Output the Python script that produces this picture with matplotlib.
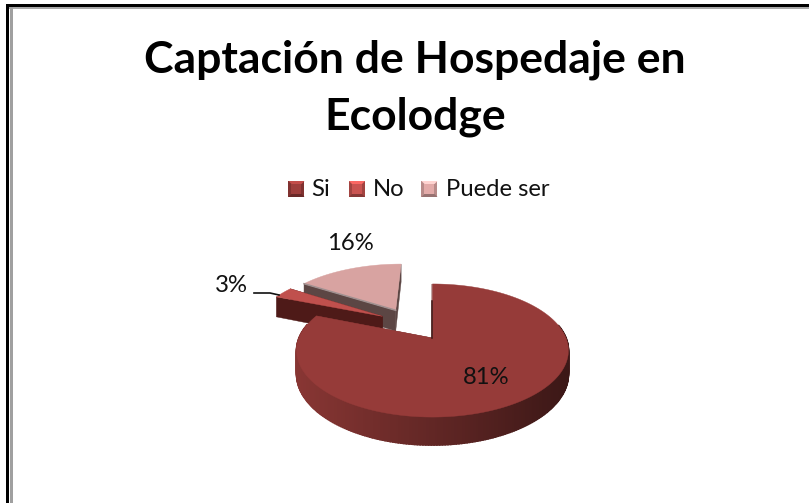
import numpy as np
import matplotlib
matplotlib.use("Agg")
import matplotlib.pyplot as plt
from matplotlib.patches import Rectangle, Polygon

title_lines = ["Captación de Hospedaje en", "Ecolodge"]
categories = ["Si", "No", "Puede ser"]
values = [81, 3, 16]
labels = ["81%", "3%", "16%"]

top_colors = ["#963B39", "#C0504D", "#D8A3A1"]
wall_colors = ["#6F2C2A", "#4E1A18", "#5C4644"]
cut_line_colors = ["#3A1412", None, "#A09090"]
cut_line_len = [0.65, 0.0, 1.0]
explode_x = [0.0, -0.40, -0.30]
explode_y = [0.0, 0.36, 0.47]

CX, CY = 432.5, 338.0
RX, A, B, DEPTH = 133.5, 64.2, 0.188, 22.7

fig = plt.figure(figsize=(8.09, 5.03), dpi=100)
ax = fig.add_axes([0, 0, 1, 1])
ax.set_xlim(0, 809)
ax.set_ylim(503, 0)
ax.axis("off")
plt.rcParams["font.family"] = ["Lato", "DejaVu Sans"]


def project(x, y, z=0.0):
    x = np.asarray(x, float)
    y = np.asarray(y, float)
    w = 1 + B * y
    return CX + RX * x / w, CY - A * y / w + DEPTH * z / w


def arc(a0, a1, n=300):
    t = np.radians(np.linspace(a0, a1, n))
    return np.sin(t), np.cos(t)


def shade(c, f):
    rgb = np.array(matplotlib.colors.to_rgb(c))
    return tuple(np.clip(rgb * f, 0, 1))


# Border of the picture
ax.add_patch(Rectangle((6, 4), 803, 3.4, color="#000000", lw=0, zorder=1))
ax.add_patch(Rectangle((9.5, 7.4), 800, 1.6, color="#A8A8A8", lw=0, zorder=1))
ax.add_patch(Rectangle((6, 4), 3.4, 499, color="#000000", lw=0, zorder=1))
ax.add_patch(Rectangle((10, 7.4), 2.6, 496, color="#A0A0A0", lw=0, zorder=1))

# Title
ax.text(415, 60, title_lines[0], ha="center", va="center", fontsize=32,
        fontweight="bold", color="#000000")
ax.text(415, 117, title_lines[1], ha="center", va="center", fontsize=32,
        fontweight="bold", color="#000000")

# Slice angles come from the values (clockwise from 12 o'clock)
edges = np.concatenate([[0], np.cumsum(values)]) * 360.0 / sum(values)


def draw_slice(i, zorder):
    a0, a1 = edges[i], edges[i + 1]
    ex, ey = explode_x[i], explode_y[i]
    sx, sy = arc(a0, a1)
    sx, sy = sx + ex, sy + ey

    # Radial walls
    for ang in (a0, a1):
        t = np.radians(ang)
        rx = np.array([ex, ex + np.sin(t)])
        ry = np.array([ey, ey + np.cos(t)])
        top = project(rx, ry)
        bot = project(rx, ry, 1.0)
        ax.fill(np.r_[top[0], bot[0][::-1]], np.r_[top[1], bot[1][::-1]],
                color=wall_colors[i], lw=0.3, zorder=zorder)

    # Outer wall, shaded from left to right
    xt, yt = project(sx, sy)
    xb, yb = project(sx, sy, 1.0)
    for k in range(len(sx) - 1):
        if sy[k] > ey + 0.22:
            continue
        p = (0.5 * (xt[k] + xt[k + 1]) - (CX + RX * ex - RX)) / (2 * RX)
        f = 1.22 - 0.68 * float(np.clip(p, 0, 1))
        col = shade(wall_colors[i], f)
        ax.fill([xt[k], xt[k + 1], xb[k + 1], xb[k]],
                [yt[k], yt[k + 1], yb[k + 1], yb[k]],
                facecolor=col, edgecolor=col, lw=1.2, zorder=zorder)

    # Top face
    px, py = project(np.r_[ex, sx], np.r_[ey, sy])
    ax.fill(px, py, color=top_colors[i], lw=0.3, zorder=zorder + 0.5)

    # Thin shaded line along the cut at the start of the slice
    if cut_line_colors[i]:
        t = np.radians(a0)
        lx, ly = project([ex, ex + cut_line_len[i] * np.sin(t)],
                         [ey, ey + cut_line_len[i] * np.cos(t)])
        ax.plot(lx, ly, color=cut_line_colors[i], lw=1.1, zorder=zorder + 0.6)


draw_slice(2, 3)
draw_slice(1, 4)
draw_slice(0, 5)

# Labels
ax.text(486, 377, labels[0], ha="center", va="center", fontsize=17.2, color="#111111", zorder=8)
ax.text(350, 243, labels[2], ha="center", va="center", fontsize=17.2, color="#111111", zorder=8)
ax.text(231, 286, labels[1], ha="center", va="center", fontsize=17.2, color="#111111", zorder=8)
ax.plot([254, 270, 279], [293, 293, 295], color="#111111", lw=1.2, zorder=8)

# Legend
legend_x = [288.5, 349, 421.5]
text_x = [311, 373, 446]
for c, lx, tx, col in zip(categories, legend_x, text_x, top_colors):
    s, m, y0 = 16, 3, 181
    x1, y1 = lx + s, y0 + s
    ax.add_patch(Rectangle((lx, y0), s, s, color=shade(col, 0.85), lw=0, zorder=6))
    ax.add_patch(Polygon([(lx, y0), (x1, y0), (x1 - m, y0 + m), (lx + m, y0 + m)],
                         color=shade(col, 1.3), lw=0, zorder=7))
    ax.add_patch(Polygon([(lx, y1), (x1, y1), (x1 - m, y1 - m), (lx + m, y1 - m)],
                         color=shade(col, 0.7), lw=0, zorder=7))
    ax.add_patch(Rectangle((lx + m, y0 + m), s - 2 * m, s - 2 * m, color=shade(col, 1.05), lw=0, zorder=7))
    ax.text(tx, 189.5, c, ha="left", va="center", fontsize=17.2, color="#111111", zorder=8)

fig.savefig("out.png", dpi=100, facecolor="white")
